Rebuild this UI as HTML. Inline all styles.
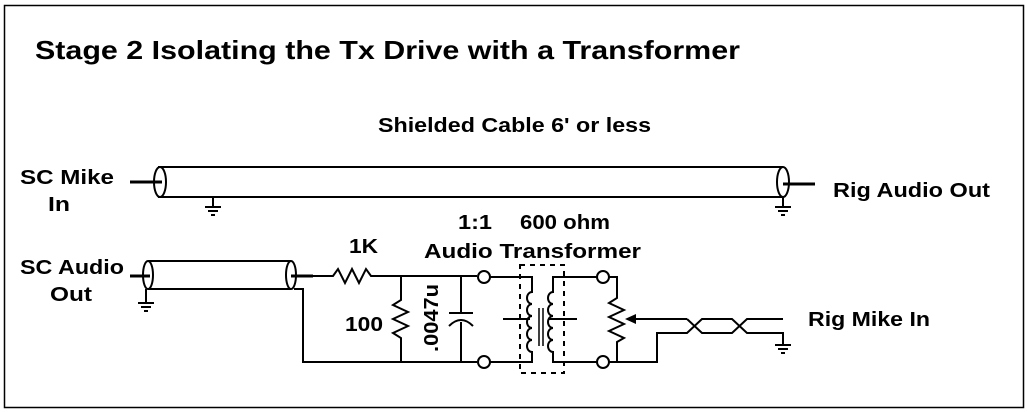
<!DOCTYPE html>
<html><head><style>html,body{margin:0;padding:0;background:#fff}svg{display:block}</style></head><body>
<svg width="1027" height="412" viewBox="0 0 1027 412" xmlns="http://www.w3.org/2000/svg" font-family="'Liberation Sans', Arial, sans-serif" font-weight="bold">
<rect x="4.5" y="5.5" width="1019" height="402" fill="#fff" stroke="#000" stroke-width="1.5"/>
<text x="35" y="59" font-size="26" textLength="705" lengthAdjust="spacingAndGlyphs">Stage 2 Isolating the Tx Drive with a Transformer</text>
<g font-size="20" lengthAdjust="spacingAndGlyphs">
<text x="378" y="132" textLength="273" lengthAdjust="spacingAndGlyphs">Shielded Cable 6' or less</text>
<text x="20" y="184" textLength="94" lengthAdjust="spacingAndGlyphs">SC Mike</text>
<text x="48" y="211" textLength="22" lengthAdjust="spacingAndGlyphs">In</text>
<text x="833" y="197" textLength="157" lengthAdjust="spacingAndGlyphs">Rig Audio Out</text>
<text x="20" y="274" textLength="104" lengthAdjust="spacingAndGlyphs">SC Audio</text>
<text x="50" y="301" textLength="42" lengthAdjust="spacingAndGlyphs">Out</text>
<text x="349" y="253" textLength="29" lengthAdjust="spacingAndGlyphs">1K</text>
<text x="458" y="229" textLength="34" lengthAdjust="spacingAndGlyphs">1:1</text>
<text x="520" y="229" textLength="90" lengthAdjust="spacingAndGlyphs">600 ohm</text>
<text x="424" y="258" textLength="217" lengthAdjust="spacingAndGlyphs">Audio Transformer</text>
<text x="345" y="331" textLength="38" lengthAdjust="spacingAndGlyphs">100</text>
<text x="808" y="326" textLength="122" lengthAdjust="spacingAndGlyphs">Rig Mike In</text>
<text transform="translate(438,352) rotate(-90)" textLength="68" lengthAdjust="spacingAndGlyphs">.0047u</text>
</g>
<g fill="none" stroke="#000" stroke-width="2">
<line x1="158" y1="167" x2="783" y2="167"/><line x1="158" y1="197" x2="783" y2="197"/>
<ellipse cx="160" cy="182" rx="6" ry="15" fill="#fff"/>
<ellipse cx="783" cy="182" rx="6" ry="15"/>
<line x1="130" y1="182" x2="162" y2="182" stroke-width="3"/>
<line x1="783" y1="184" x2="815" y2="184" stroke-width="3"/>
<line x1="213" y1="197" x2="213" y2="207"/>
<line x1="783" y1="197" x2="783" y2="207"/>
<line x1="148" y1="261" x2="291" y2="261"/><line x1="148" y1="289" x2="291" y2="289"/>
<ellipse cx="148" cy="275" rx="5" ry="14" fill="#fff"/>
<ellipse cx="291" cy="275" rx="5" ry="14"/>
<line x1="130" y1="276" x2="150" y2="276" stroke-width="3"/>
<line x1="291" y1="276" x2="313" y2="276" stroke-width="3"/>
<line x1="146" y1="289" x2="146" y2="303"/>
<path d="M313 276 H333 l5 -7 l7 14 l7 -14 l7 14 l7 -14 l5 7 H477"/>
<path d="M294 289 H303 V362 H477"/>
<path d="M401 276 V300 l-8 5 l15 7 l-15 7 l15 7 l-15 7 l8 5 V362"/>
<path d="M461 276 V313 M449 313 H473 M461 322 V362 M449 326 Q461 314 473 326"/>
<circle cx="484" cy="277" r="6"/><circle cx="484" cy="362" r="6"/>
<circle cx="603" cy="277" r="6"/><circle cx="603" cy="362" r="6"/>
<path d="M490 277 H532 V292 a5 6 0 0 0 0 12 a5 6 0 0 0 0 12 a5 6 0 0 0 0 12 a5 6 0 0 0 0 12 a5 6 0 0 0 0 12 V362 H490"/>
<path d="M597 277 H553 V292 a5 6 0 0 0 0 12 a5 6 0 0 0 0 12 a5 6 0 0 0 0 12 a5 6 0 0 0 0 12 a5 6 0 0 0 0 12 V362 H597"/>
<line x1="539" y1="308" x2="539" y2="346" stroke-width="1.5"/>
<line x1="543" y1="308" x2="543" y2="346" stroke-width="1.5"/>
<line x1="503" y1="319" x2="530" y2="319"/>
<line x1="548" y1="319" x2="577" y2="319"/>
<rect x="520" y="265" width="44" height="108" stroke-dasharray="5,5"/>
<path d="M609 277 H617 V298 l-8 5 l15 7 l-15 7 l15 7 l-15 7 l15 7 l-7 4 V362 H609"/>
<path d="M687 319 H632"/>
<path d="M687 319 L702 333 H732 L747 319 H783"/>
<path d="M617 362 H657 V333 H687 L702 319 H732 L747 333 H783 V345"/>
</g>
<polygon points="625,319 636,314 636,324" fill="#000"/>
<g stroke="#000" stroke-width="2">
<path d="M205 207 H221 M208 211 H218 M211 215 H215"/>
<path d="M775 207 H791 M778 211 H788 M781 215 H785"/>
<path d="M138 303 H154 M141 307 H151 M144 311 H148"/>
<path d="M775 345 H791 M778 349 H788 M781 353 H785"/>
</g>
</svg>
</body></html>
